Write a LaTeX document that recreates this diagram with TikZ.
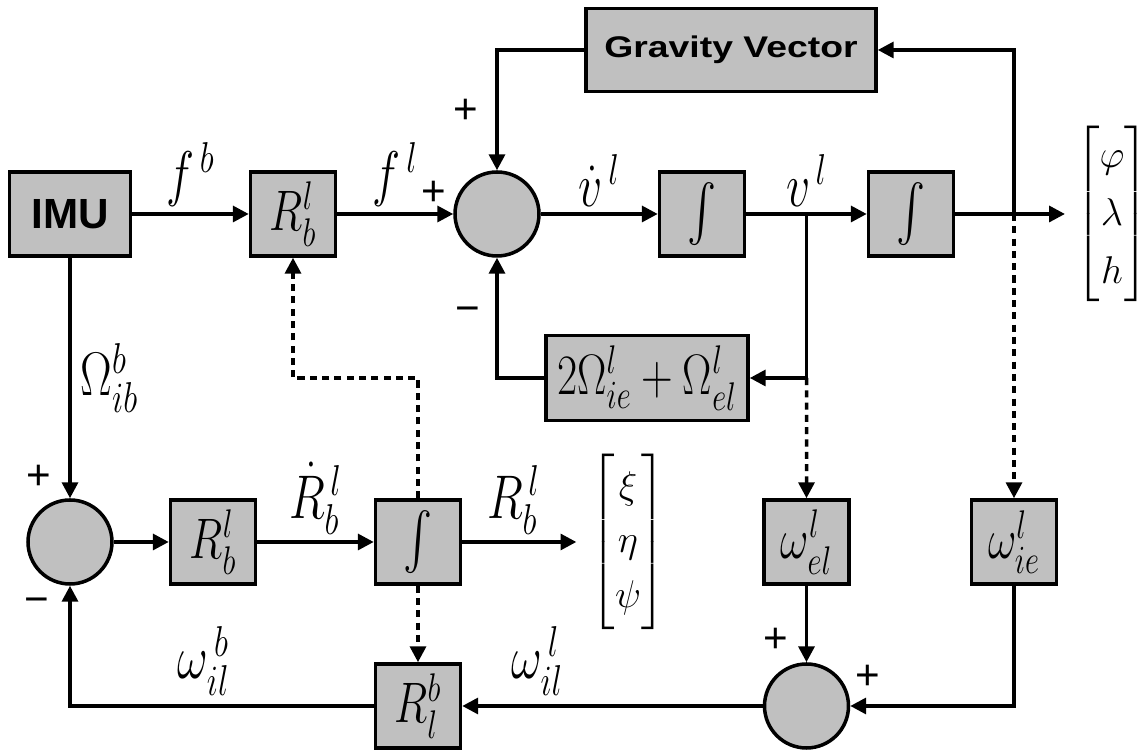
\RequirePackage{fix-cm}
\documentclass[tikz,border=0pt]{standalone}
\usepackage{amsmath}
\usepackage{fontspec}
\newfontfamily\arialfont{Liberation Sans}
\newfontfamily\arialwide[FakeStretch=1.25]{Liberation Sans}
\usetikzlibrary{arrows.meta, calc}
\definecolor{blockgray}{RGB}{192,192,192}
\newcommand{\tall}[1]{\scalebox{1}[1.3]{#1}}

\begin{document}
\begin{tikzpicture}[node distance=1.5cm, auto]
\tikzstyle{block} = [rectangle, draw, line width=2pt, fill=blockgray, minimum width=1.7cm, minimum height=1.68cm, inner sep=0pt, font=\fontsize{25}{30}\selectfont]
\tikzstyle{sum} = [circle, draw, line width=2pt, fill=blockgray, minimum size=1.68cm, inner sep=0pt]
\tikzstyle{line} = [draw, line width=2pt, -{Triangle[length=9pt,width=9pt]}]
\tikzstyle{dline} = [line, dash pattern=on 4pt off 3pt]
\tikzstyle{lbl} = [font=\fontsize{27}{32}\selectfont, inner sep=1pt]
\tikzstyle{vec} = [font=\fontsize{22}{33}\selectfont, inner sep=0pt]
\tikzstyle{sign} = [font=\arialfont\fontsize{24}{28}\selectfont, inner sep=0pt]

\useasboundingbox (0,0) rectangle (22.86,15.02);

% navigation loop
\node [block, minimum width=2.42cm, font=\arialfont\bfseries\fontsize{24}{28}\selectfont] (imu) at (1.40,10.74) {IMU};
\node [block, right of=imu, xshift=2.96cm] (rtop) {\tall{$R_b^l$}};
\node [sum, right of=rtop, xshift=2.58cm] (sum1) {};
\node [block, right of=sum1, xshift=2.60cm] (int1) {\tall{$\int$}};
\node [block, right of=int1, xshift=2.68cm] (int2) {\tall{$\int$}};
\node [vec, right of=int2, xshift=2.52cm] (pos) {$\setlength{\arraycolsep}{0pt}\begin{bmatrix}\varphi\\ \lambda\\ h\end{bmatrix}$};
\node [block, above of=int1, xshift=0.58cm, yshift=1.78cm, minimum width=5.8cm, minimum height=1.66cm, font=\arialwide\bfseries\fontsize{17}{20}\selectfont] (grav) {Gravity Vector};
\node [block, below of=int1, xshift=-1.10cm, yshift=-1.78cm, minimum width=4.04cm, minimum height=1.7cm] (cor) {\tall{$2\Omega_{ie}^l+\Omega_{el}^l$}};

% attitude loop
\node [sum, below of=imu, yshift=-5.06cm] (sum2) {};
\node [block, right of=sum2, xshift=1.36cm] (rlow) {\tall{$R_b^l$}};
\node [block, right of=rlow, xshift=2.60cm] (int3) {\tall{$\int$}};
\node [vec, right of=int3, xshift=2.70cm, font=\fontsize{22}{31}\selectfont] (att) {$\setlength{\arraycolsep}{1pt}\begin{bmatrix}\xi\\ \eta\\ \psi\end{bmatrix}$};
\node [block, right of=att, xshift=2.07cm] (wel) {\tall{$\omega_{el}^l$}};
\node [block, right of=wel, xshift=2.65cm] (wie) {\tall{$\omega_{ie}^l$}};
\node [sum, below of=wel, yshift=-1.78cm] (sum3) {};
\node [block, below of=int3, yshift=-1.78cm] (rlb) {\tall{$R_l^b$}};

\coordinate (vtap) at ($(int1.east)!0.5!(int2.west)$);
\coordinate (ptap) at (wie |- int2);

\path [line] (imu) -- node[lbl, above=2pt] {\tall{$f^{\,b}$}} (rtop);
\path [line] (rtop) -- node[lbl, above=2pt] {\tall{$f^{\,l}$}} (sum1);
\path [line] (sum1) -- node[lbl, above=2pt] {\tall{$\dot v^{\,l}$}} (int1);
\path [line] (int1) -- node[lbl, above=2pt] {\tall{$v^{\,l}$}} (int2);
\path [line, shorten >=0.2cm] (int2) -- (pos);
\path [line] (vtap) |- (cor.east);
\path [line] (cor.west) -| (sum1.south);
\path [line] (grav.west) -| (sum1.north);
\path [line] (ptap) |- (grav.east);
\path [dline] (ptap) -- (wie.north);
\path [dline] (vtap |- cor.east) -- (wel.north);

\path [line] (imu) -- node[lbl, right=4pt] {\tall{$\Omega_{ib}^b$}} (sum2);
\path [line] (sum2) -- (rlow);
\path [line] (rlow) -- node[lbl, above=2pt] {\tall{$\dot R_b^{\,l}$}} (int3);
\path [line, shorten >=0.28cm] (int3) -- node[lbl, above=2pt, pos=0.4] {\tall{$R_b^{\,l}$}} (att);
\path [line] (wel) -- (sum3);
\path [line] (wie.south) |- (sum3.east);
\path [line] (sum3) -- node[lbl, above=4pt, pos=0.75] {\tall{$\omega_{il}^{\,l}$}} (rlb);
\path [line] (rlb.west) -| node[lbl, above=4pt, pos=0.28] {\tall{$\omega_{il}^{\,b}$}} (sum2.south);
\path [dline] (int3.north) |- (rtop.south |- cor.west) -- (rtop.south);
\path [dline] (int3.south) -- (rlb.north);

% signs
\node [sign] (p1) at ([shift={(-0.38,0.42)}]sum1.west) {+};
\node [sign] (p2) at ([shift={(-0.62,1.18)}]sum1.north) {+};
\node [sign] (m1) at ([shift={(-0.58,-1.14)}]sum1.south) {−};
\node [sign] (p3) at ([shift={(-0.62,0.42)}]sum2.north) {+};
\node [sign] (m2) at ([shift={(-0.66,-0.40)}]sum2.south) {−};
\node [sign] (p4) at ([shift={(-0.62,0.44)}]sum3.north) {+};
\node [sign] (p5) at ([shift={(0.36,0.58)}]sum3.east) {+};
\end{tikzpicture}
\end{document}
